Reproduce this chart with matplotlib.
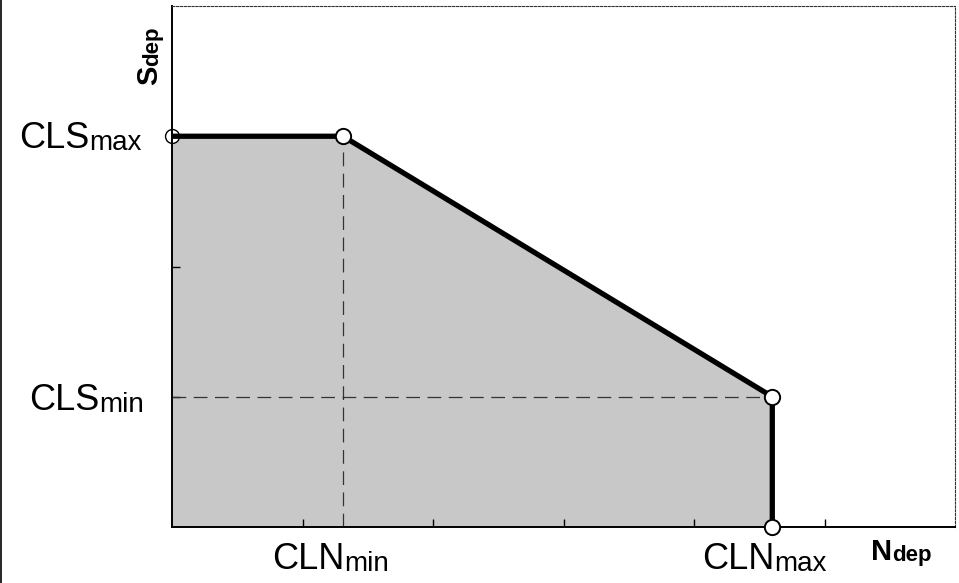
import matplotlib
matplotlib.use("Agg")
import matplotlib.pyplot as plt
from matplotlib.lines import Line2D

plt.rcParams['font.family'] = ['Liberation Sans', 'DejaVu Sans']

# break points of the curve (N_dep, S_dep)
cln_min, cln_max = 1.31, 4.6
cls_min, cls_max = 1.0, 3.0
curve_x = [0.0, cln_min, cln_max, cln_max]
curve_y = [cls_max, cls_max, cls_min, 0.0]
xticks = [1, 2, 3, 4, 5]
yticks = [1, 2, 3]

PX = 0.72  # pixels -> points at dpi 100

fig = plt.figure(figsize=(9.59, 5.83), dpi=100)
ax = fig.add_axes([172/959, 56/583, 783/959, 521/583])

# shaded region under the curve
ax.fill_between(curve_x, curve_y, 0, color='#c8c8c8', lw=0, zorder=1)

# dashed guides
ax.plot([cln_min, cln_min], [0, cls_max], color='#333333', lw=0.9, ls=(0, (11, 6)), zorder=2)
ax.plot([0, cln_max], [cls_min, cls_min], color='#333333', lw=0.9, ls=(0, (11, 6)), zorder=2)

ax.plot(curve_x, curve_y, color='black', lw=3.8, solid_capstyle='butt', zorder=3)
ax.plot(curve_x[:1], curve_y[:1], ls='none', marker='o', ms=10, mfc='white', mec='black',
        mew=1.0, zorder=2.2, clip_on=False)
ax.plot(curve_x[1:], curve_y[1:], ls='none', marker='o', ms=11, mfc='white', mec='black',
        mew=1.4, zorder=4, clip_on=False)

ax.set_xlim(0, 6)
ax.set_ylim(0, 4)
ax.set_xticks(xticks)
ax.set_yticks(yticks)
ax.set_xticklabels([])
ax.set_yticklabels([])
ax.tick_params(direction='in', length=6, width=1, color='black')

for s in ['top', 'right']:
    ax.spines[s].set_linestyle((0, (2, 1.5)))
    ax.spines[s].set_linewidth(0.8)
    ax.spines[s].set_color('#333333')
for s in ['left', 'bottom']:
    ax.spines[s].set_linewidth(1.4)


def label(main, sub, xy, off_px, size, sub_size, weight='normal', coords='data'):
    t = ax.annotate(main, xy=xy, xycoords=coords, xytext=(off_px[0]*PX, off_px[1]*PX),
                    textcoords='offset points', ha='left', va='baseline',
                    fontsize=size, fontweight=weight, annotation_clip=False)
    ax.annotate(sub, xy=(1, 0), xycoords=t, ha='left', va='bottom',
                fontsize=sub_size, fontweight=weight, annotation_clip=False)


label('CLS', 'max', (0, cls_max), (-153, -12), 26, 20)
label('CLS', 'min', (0, cls_min), (-143, -13), 26, 20)
label('CLN', 'min', (cln_min, 0), (-71, -42), 26, 20)
label('CLN', 'max', (cln_max, 0), (-70, -42), 26, 20)
label('N', 'dep', (1, 0), (-84, -33), 21, 16, weight='bold', coords='axes fraction')

# rotated y-axis name
s_main = ax.annotate('S', xy=(0, 1), xycoords='axes fraction', xytext=(-9*PX, -79*PX),
                     textcoords='offset points', ha='right', va='bottom', rotation=90,
                     fontsize=21, fontweight='bold', annotation_clip=False)
ax.annotate('dep', xy=(1, 1), xycoords=s_main, ha='right', va='bottom', rotation=90,
            fontsize=16, fontweight='bold', annotation_clip=False)

fig.add_artist(Line2D([0.0015, 0.0015], [0, 1], color='black', lw=1.2))

fig.savefig('out.png', dpi=100)
